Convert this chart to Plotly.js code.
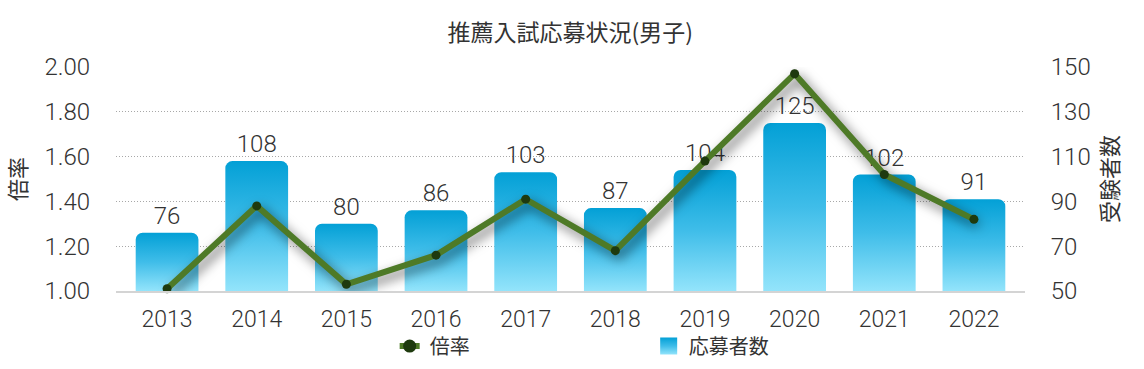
<!DOCTYPE html>
<html>
<head>
<meta charset="utf-8">
<script src="https://cdn.plot.ly/plotly-3.0.1.min.js"></script>
<style>
html,body{margin:0;padding:0;background:#fff;}
#chart{width:1144px;height:369px;}
</style>
</head>
<body>
<div id="chart"></div>
<script>
const years = ['2013','2014','2015','2016','2017','2018','2019','2020','2021','2022'];
const applicants = [76, 108, 80, 86, 103, 87, 104, 125, 102, 91];
const ratio = [1.01, 1.38, 1.03, 1.16, 1.41, 1.18, 1.58, 1.97, 1.52, 1.32];
const leftTicks = [1.0, 1.2, 1.4, 1.6, 1.8, 2.0];
const rightTicks = [50, 70, 90, 110, 130, 150];

const CJK = '"Noto Sans CJK JP", "Noto Sans", sans-serif';
const NUM = 'Roboto, "Noto Sans CJK JP", sans-serif';
const TXT = '#333333';

const data = [
  {
    type: 'scatter', mode: 'lines+markers', name: '倍率',
    x: years, y: ratio, yaxis: 'y2',
    line: {color: '#4e7a27', width: 6},
    marker: {color: '#1e3a0e', size: 9},
    cliponaxis: false
  },
  {
    type: 'bar', name: '応募者数',
    x: years, y: applicants, yaxis: 'y',
    marker: {color: '#3ab6e6', line: {width: 0}, cornerradius: 7},
    width: 0.7,
    text: applicants.map(String), textposition: 'outside',
    textfont: {family: NUM, size: 24, color: TXT, weight: 300},
    cliponaxis: false
  }
];

const layout = {
  width: 1144, height: 369,
  margin: {l: 116, r: 119, t: 67, b: 78, autoexpand: false},
  paper_bgcolor: '#ffffff', plot_bgcolor: '#ffffff',
  font: {family: CJK, color: TXT, size: 20},
  title: {text: '推薦入試応募状況(男子)', font: {family: CJK, size: 23, color: TXT}, x: 0.4985, xanchor: 'center', y: 0.91, yanchor: 'middle'},
  showlegend: true,
  legend: {orientation: 'h', x: 0.586, xanchor: 'center', yref: 'container', y: 0.115, yanchor: 'top',
           font: {family: CJK, size: 20, color: TXT}, entrywidth: 214, itemwidth: 30, traceorder: 'normal'},
  bargap: 0.3,
  xaxis: {
    type: 'category', showgrid: false, zeroline: false, automargin: false,
    showline: true, linecolor: '#d4d4d4', linewidth: 2,
    ticks: 'outside', ticklen: 6, tickcolor: 'rgba(0,0,0,0)',
    tickfont: {family: NUM, size: 23, color: TXT, weight: 300}
  },
  yaxis: {
    side: 'right', range: [50, 150], tickvals: rightTicks, automargin: false,
    ticktext: rightTicks.map(String),
    showgrid: true, gridcolor: '#a8a8a8', griddash: '1px,2px', gridwidth: 1,
    zeroline: false, showline: false,
    ticks: 'outside', ticklen: 20, tickcolor: 'rgba(0,0,0,0)',
    tickfont: {family: NUM, size: 24, color: TXT, weight: 300},
    title: {text: '受験者数', font: {family: CJK, size: 22, color: TXT}, standoff: 12}
  },
  yaxis2: {
    overlaying: 'y', side: 'left', range: [1.0, 2.0], tickvals: leftTicks, automargin: false,
    ticktext: leftTicks.map(v => v.toFixed(2)),
    showgrid: false, zeroline: false, showline: false,
    ticks: 'outside', ticklen: 20, tickcolor: 'rgba(0,0,0,0)',
    tickfont: {family: NUM, size: 24, color: TXT, weight: 300},
    title: {text: '倍率', font: {family: CJK, size: 22, color: TXT}, standoff: 12}
  }
};

Plotly.newPlot('chart', data, layout, {displayModeBar: false, staticPlot: true}).then(gd => {
  const svg = gd.querySelector('svg.main-svg');
  const NS = 'http://www.w3.org/2000/svg';
  let defs = svg.querySelector('defs');
  if (!defs) { defs = document.createElementNS(NS, 'defs'); svg.insertBefore(defs, svg.firstChild); }
  const ya = gd._fullLayout.yaxis;
  const stops = [['0', '#03a0d6'], ['0.5', '#3fbde9'], ['1', '#93e4fb']];
  function makeGrad(id, y1, y2, units) {
    const g = document.createElementNS(NS, 'linearGradient');
    g.setAttribute('id', id);
    g.setAttribute('gradientUnits', units);
    g.setAttribute('x1', '0'); g.setAttribute('x2', '0');
    g.setAttribute('y1', String(y1)); g.setAttribute('y2', String(y2));
    stops.forEach(([o, c]) => {
      const s = document.createElementNS(NS, 'stop');
      s.setAttribute('offset', o); s.setAttribute('stop-color', c);
      g.appendChild(s);
    });
    defs.appendChild(g);
  }
  gd.querySelectorAll('.barlayer .point path').forEach((p, i) => {
    const bb = p.getBBox();
    const bottom = Math.min(bb.y + bb.height, ya._length);
    makeGrad('barGrad' + i, bb.y, bottom, 'userSpaceOnUse');
    p.style.fill = 'url(#barGrad' + i + ')';
  });
  makeGrad('legGrad', 0, 1, 'objectBoundingBox');

  const traces = gd.querySelectorAll('.legend .traces');
  traces.forEach((t, i) => {
    if (i === 1) t.querySelectorAll('.legendpoints path').forEach(p => {
      p.style.fill = 'url(#legGrad)'; p.style.stroke = 'none';
      p.setAttribute('d', 'M-8.5,-8.5h17v17h-17Z');
    });
    if (i === 0) {
      t.querySelectorAll('.legendlines path').forEach(p => { p.setAttribute('d', 'M10,0h20'); });
      t.querySelectorAll('.legendpoints path').forEach(p => {
        const tr = p.getAttribute('transform') || '';
        p.setAttribute('transform', tr + ' scale(1.45)');
      });
    }
  });
  gd.querySelectorAll('.scatterlayer path.js-line').forEach(p => {
    p.style.filter = 'drop-shadow(4px 5px 6px rgba(0,0,0,0.6))';
  });
});
</script>
</body>
</html>
